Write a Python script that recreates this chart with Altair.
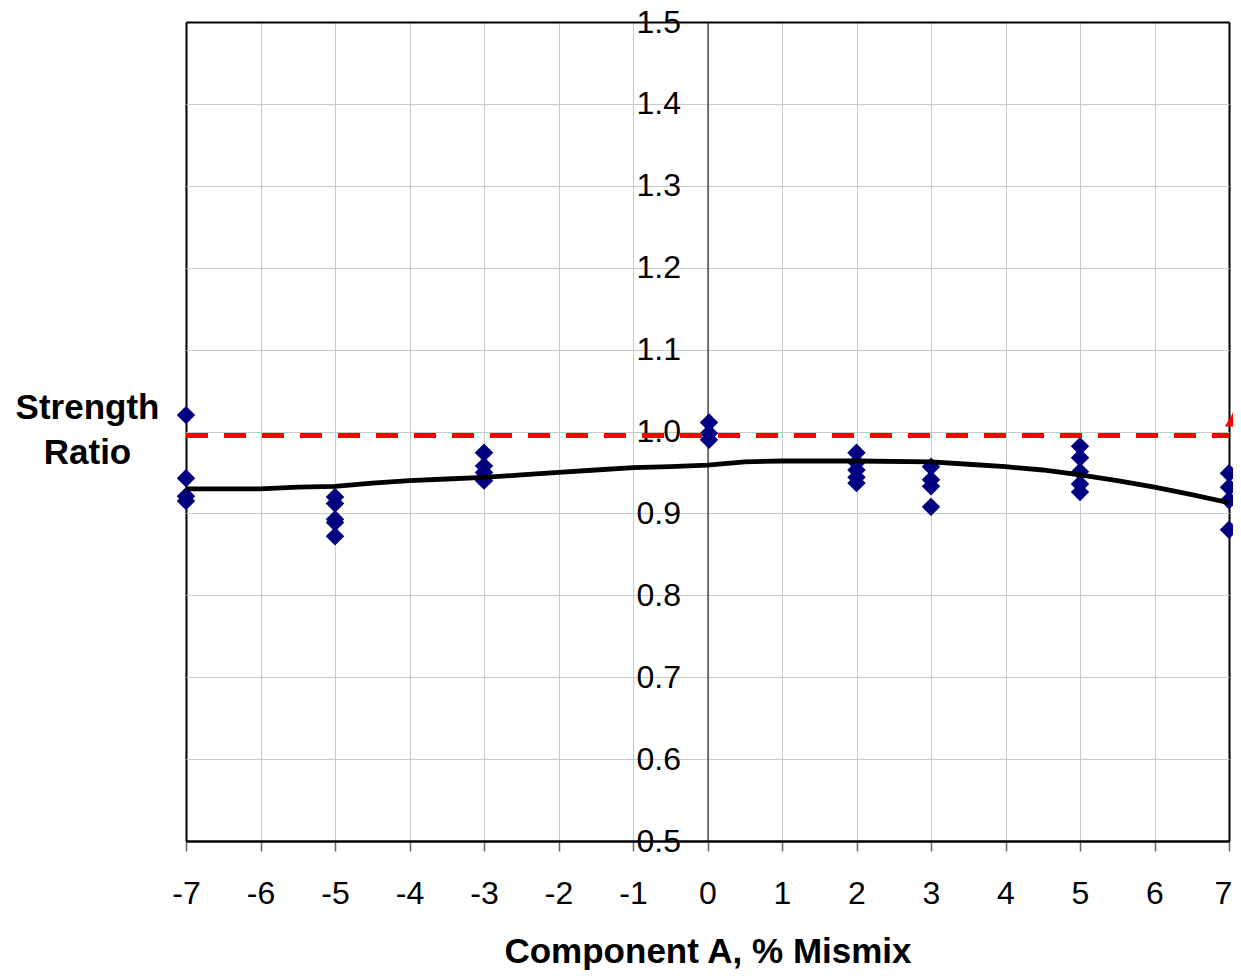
import altair as alt
import pandas as pd

# Scatter measurements (Component A % mismix vs strength ratio)
pt_x = [-7, -7, -7, -7,
        -5, -5, -5, -5, -5,
        -3, -3, -3, -3,
        0.02, 0.02, 0.02,
        2, 2, 2, 2, 2,
        3, 3, 3, 3,
        5, 5, 5, 5, 5,
        7, 7, 7, 7]
pt_y = [1.020, 0.943, 0.921, 0.915,
        0.920, 0.912, 0.893, 0.889, 0.872,
        0.974, 0.958, 0.950, 0.940,
        1.011, 0.998, 0.990,
        0.974, 0.962, 0.953, 0.944, 0.937,
        0.957, 0.941, 0.933, 0.908,
        0.982, 0.968, 0.951, 0.936, 0.926,
        0.949, 0.932, 0.916, 0.880]

# Fitted curve
fit_x = [-7, -6, -5.5, -5, -4.5, -4, -3.5, -3, -2.5, -2, -1.5, -1, -0.5, 0,
         0.5, 1, 2, 3, 3.5, 4, 4.5, 5, 5.5, 6, 6.5, 7]
fit_y = [0.930, 0.930, 0.932, 0.933, 0.937, 0.940, 0.942, 0.944, 0.947, 0.950,
         0.953, 0.956, 0.957, 0.959, 0.963, 0.964, 0.964, 0.963, 0.960, 0.957,
         0.953, 0.947, 0.940, 0.932, 0.923, 0.913]

# Reference line (red dashed)
ref_x = [-7, 7]
ref_y = [0.995, 0.995]
ref_marker_x = [7.07]
ref_marker_y = [1.016]

x_ticks = [-7, -6, -5, -4, -3, -2, -1, 0, 1, 2, 3, 4, 5, 6, 7]
y_ticks = [0.5, 0.6, 0.7, 0.8, 0.9, 1.0, 1.1, 1.2, 1.3, 1.4, 1.5]

pts = pd.DataFrame({"x": pt_x, "y": pt_y})
fit = pd.DataFrame({"x": fit_x, "y": fit_y})
ref = pd.DataFrame({"x": ref_x, "y": ref_y})
refm = pd.DataFrame({"x": ref_marker_x, "y": ref_marker_y})

W, H = 1043, 819
FONT = "Liberation Sans"

xscale = alt.Scale(domain=[-7, 7], nice=False, zero=False)
yscale = alt.Scale(domain=[0.5, 1.5], nice=False, zero=False)

x_axis = alt.Axis(
    values=x_ticks, title="Component A, % Mismix",
    labelExpr="'' + datum.value",
    labelFlush=False,
    labelOffset=alt.condition("datum.value >= 7", alt.value(-6), alt.value(0)),
    grid=True,
    gridColor=alt.condition("datum.value <= -7 || datum.value >= 7", alt.value("black"), alt.value("#c8c8c8")),
    gridWidth=alt.condition("datum.value <= -7 || datum.value >= 7", alt.value(2), alt.value(1)),
    domain=True, domainColor="black", domainWidth=2,
    ticks=True, tickSize=10, tickColor="#666666", tickWidth=1.5,
    labelFontSize=32, labelFont=FONT, labelColor="black", labelPadding=27,
    titleFontSize=35, titleFont=FONT, titleFontWeight="bold", titleColor="black",
    titlePadding=25,
)
y_axis = alt.Axis(
    values=y_ticks, format=".1f", orient="left",
    offset=-W / 2,
    grid=True,
    gridColor=alt.condition("datum.value <= 0.5 || datum.value >= 1.5", alt.value("black"), alt.value("#c8c8c8")),
    gridWidth=alt.condition("datum.value <= 0.5 || datum.value >= 1.5", alt.value(2), alt.value(1)),
    domain=True, domainColor="black", domainWidth=1,
    ticks=False, labelPadding=27,
    labelFontSize=32, labelFont=FONT, labelColor="black",
    title=["Strength", "Ratio"], titleAngle=0, titleFontSize=35, titleFont=FONT,
    titleFontWeight="bold", titleColor="black", titleAlign="center",
    titleBaseline="alphabetic", titleLineHeight=45,
    titleX=-99 - W / 2, titleY=396,
)

points = alt.Chart(pts).mark_point(
    shape="diamond", filled=True, size=340, color="#000080", opacity=1
).encode(
    x=alt.X("x:Q", scale=xscale, axis=x_axis),
    y=alt.Y("y:Q", scale=yscale, axis=y_axis),
)

line = alt.Chart(fit).mark_line(color="black", strokeWidth=4.8).encode(
    x=alt.X("x:Q", scale=xscale),
    y=alt.Y("y:Q", scale=yscale),
)

refline = alt.Chart(ref).mark_line(color="#ff0000", strokeWidth=5, strokeDash=[22, 16]).encode(
    x=alt.X("x:Q", scale=xscale),
    y=alt.Y("y:Q", scale=yscale),
)

refmark = alt.Chart(refm).mark_point(
    shape="triangle-up", filled=True, size=350, color="#ff0000", opacity=1
).encode(
    x=alt.X("x:Q", scale=xscale),
    y=alt.Y("y:Q", scale=yscale),
)

chart = alt.layer(points, line, refline, refmark).properties(
    width=W, height=H,
    autosize=alt.AutoSizeParams(type="none"),
    padding={"left": 178, "top": 14, "right": 4, "bottom": 130},
).configure_view(stroke="black", strokeWidth=2).configure(background="white")

chart.save("out.html", embed_options={"renderer": "svg", "actions": False})
